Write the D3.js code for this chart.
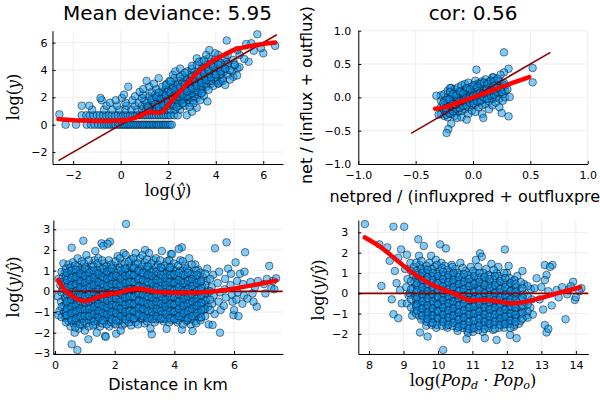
<!DOCTYPE html>
<html><head><meta charset="utf-8">
<script src="https://cdn.jsdelivr.net/npm/d3@7"></script>
<style>body{margin:0;background:#fff}svg{display:block}</style>
</head><body>
<svg id="c" width="600" height="400"></svg>
<script>
// ---------- DATA ----------
const titles = ["Mean deviance: 5.95", "cor: 0.56"];
const p1Ticks = [-2, 0, 2, 4, 6];
const p2Ticks = [-1, -0.5, 0, 0.5, 1];
const p3xTicks = [0, 2, 4, 6];
const p3yTicks = [-3, -2, -1, 0, 1, 2, 3];
const p4xTicks = [8, 9, 10, 11, 12, 13, 14];
const p4yTicks = [-2, -1, 0, 1, 2, 3];

// panel 1: log(yhat), log(y)
const p1Pts = [
[-2.58,0.76],[-2.32,0],[-1.88,0],[-1.43,0],[-1.25,0],[-1.1,0],[-0.95,0],[-0.82,0],[-0.7,0],[-0.6,0],[-0.5,0],[-0.4,0],[-0.3,0],[-0.22,0],[-0.12,0],[-0.05,0],[0.05,0],[0.12,0],[0.2,0],[0.28,0],[0.35,0],[0.42,0],[0.5,0],[0.58,0],[0.65,0],[0.72,0],[0.8,0],[0.88,0],[0.95,0],[1.02,0],[1.1,0],[1.18,0],[1.25,0],[1.33,0],[1.4,0],[1.48,0],[1.55,0],[1.62,0],[1.7,0],[1.78,0],[1.85,0],[1.92,0],[2.0,0],[2.08,0],[2.15,0],
[-1.64,0.69],[-1.45,0.69],[-1.3,0.69],[-1.15,0.69],[-1.0,0.69],[-0.88,0.69],[-0.75,0.69],[-0.62,0.69],[-0.5,0.69],[-0.38,0.69],[-0.25,0.69],[-0.12,0.69],[0,0.69],[0.1,0.69],[0.2,0.69],[0.3,0.69],[0.4,0.69],[0.5,0.69],[0.6,0.69],[0.7,0.69],[0.8,0.69],[0.9,0.69],[1.0,0.69],[1.1,0.69],[1.2,0.69],[1.3,0.69],[1.4,0.69],[1.5,0.69],[1.6,0.69],[1.7,0.69],[1.8,0.69],[1.9,0.69],[2.0,0.69],[2.1,0.69],[2.25,0.69],[2.4,0.69],[2.78,0.69],
[-1.2,1.1],[-0.7,1.1],[-0.35,1.1],[-0.05,1.1],[0.2,1.1],[0.45,1.1],[0.7,1.1],[0.9,1.1],[1.05,1.1],[1.2,1.1],[1.35,1.1],[1.5,1.1],[1.65,1.1],[1.8,1.1],[1.95,1.1],[2.1,1.1],[2.3,1.1],[2.5,1.1],
[-1.64,1.39],[-1.32,1.39],[-0.6,1.39],[-0.15,1.39],[0.25,1.39],[0.6,1.39],[0.9,1.39],[1.1,1.39],[1.3,1.39],[1.5,1.39],[1.7,1.39],[1.85,1.39],[2.0,1.39],[2.2,1.39],[2.45,1.39],[2.7,1.39],
[-0.45,1.61],[0.2,1.61],[0.75,1.61],[1.1,1.61],[1.4,1.61],[1.6,1.61],[1.8,1.61],[2.0,1.61],[2.2,1.61],[2.4,1.61],[2.65,1.61],[2.9,1.61],
[-0.8,1.79],[-0.21,1.79],[0.5,1.79],[1.0,1.79],[1.35,1.79],[1.6,1.79],[1.85,1.79],[2.1,1.79],[2.35,1.79],[2.55,1.79],[2.8,1.79],[3.05,1.79],
[-0.85,1.95],[0.05,1.95],[0.9,1.95],[1.3,1.95],[1.6,1.95],[1.9,1.95],[2.15,1.95],[2.4,1.95],[2.7,1.95],[2.95,1.95],[3.2,1.95],
[0.6,2.08],[1.2,2.08],[1.55,2.08],[1.8,2.08],[2.05,2.08],[2.3,2.08],[2.55,2.08],[2.8,2.08],[3.1,2.08],
[0.14,2.2],[0.95,2.2],[1.45,2.2],[1.75,2.2],[2.0,2.2],[2.25,2.2],[2.6,2.2],[2.9,2.2],[3.25,2.2],
[0.8,2.4],[1.3,2.4],[1.7,2.4],[2.0,2.4],[2.3,2.4],[2.55,2.4],[2.85,2.4],[3.15,2.4],[3.45,2.4],
[0.95,2.6],[1.5,2.6],[1.9,2.6],[2.2,2.6],[2.45,2.6],[2.75,2.6],[3.05,2.6],[3.35,2.6],
[0.32,2.78],[1.2,2.78],[1.75,2.78],[2.1,2.78],[2.4,2.78],[2.7,2.78],[3.0,2.78],[3.3,2.78],[3.6,2.78],
[1.4,3.0],[1.95,3.0],[2.3,3.0],[2.6,3.0],[2.9,3.0],[3.2,3.0],[3.5,3.0],[3.8,3.0],[4.1,3.0],
[1.09,3.2],[2.05,3.2],[2.45,3.2],[2.8,3.2],[3.1,3.2],[3.4,3.2],[3.7,3.2],[4.0,3.2],[4.21,3.15],
[1.6,3.4],[2.25,3.4],[2.65,3.4],[3.0,3.4],[3.3,3.4],[3.6,3.4],[3.9,3.4],[4.3,3.4],[4.74,3.5],
[2.2,3.65],[2.6,3.65],[2.95,3.65],[3.25,3.65],[3.55,3.65],[3.85,3.65],[4.15,3.65],[4.5,3.65],
[2.3,3.9],[2.8,3.9],[3.1,3.9],[3.45,3.9],[3.75,3.9],[4.0,3.9],[4.35,3.9],[4.7,3.9],
[2.5,4.1],[3.0,4.1],[3.4,4.1],[3.7,4.1],[4.05,4.1],[4.4,4.1],[4.91,4.12],
[3.2,4.35],[3.6,4.35],[3.9,4.35],[4.2,4.35],[4.5,4.35],[4.8,4.35],
[3.4,4.6],[3.8,4.6],[4.1,4.6],[4.45,4.6],[5.38,4.6],
[3.2,4.85],[3.7,4.85],[4.0,4.85],[4.4,4.85],[4.74,4.73],
[3.6,5.1],[4.1,5.1],[4.5,5.1],[5.0,5.1],
[3.97,5.22],[6.0,5.22],[3.73,5.46],[4.91,5.46],[5.28,5.9],[5.5,5.95],[6.5,5.76],[4.46,6.15],[5.75,6.61],
[3.2,1.24],[3.0,0.95],[3.35,1.8],[3.06,1.56],[3.5,2.1],[3.65,1.7],[2.9,1.3],[3.9,2.83],[4.11,3.02],[4.3,3.2],[4.6,3.3],[4.4,2.9],[4.9,3.6],[5.0,4.2],[5.2,4.8],[5.6,5.4],[5.9,5.6],[4.8,4.4],
[1.5,1.25],[1.7,1.5],[1.9,1.7],[2.1,1.9],[2.3,2.15],[2.5,2.3],[2.7,2.5],[2.9,2.7],[3.1,2.9],[3.3,3.1],[3.5,3.3],[3.7,3.5],[3.9,3.75],[4.1,3.95],[4.3,4.2],[4.5,4.45],
[1.8,2.25],[2.0,2.5],[2.2,2.7],[2.4,2.9],[2.6,3.1],[2.8,3.3],[3.0,3.5],[3.2,3.7],[3.4,3.95],[3.6,4.2],[3.8,4.45],
[2.2,1.5],[2.4,1.7],[2.6,1.9],[2.8,2.1],[3.0,2.3],[3.2,2.5],[3.4,2.75],[3.6,2.95],[3.8,3.2],[4.0,3.45],[4.2,3.7],
[1.3,1.8],[1.5,2.0],[1.6,2.35],[1.9,2.9],[2.1,3.15],[2.5,3.5],[2.7,3.8],[3.0,4.3],[3.3,4.6],
[1.15,1.25],[1.45,1.5],[2.35,1.3],[2.6,1.55],[3.4,2.3],[3.7,2.55],[4.0,3.7],[4.6,4.0],[4.2,4.5],[3.5,4.7],
[1.6,1.3],[1.8,1.45],[2.0,1.65],[2.2,1.85],[2.4,2.05],[2.6,2.25],[2.8,2.45],[3.0,2.65],[3.2,2.85],[3.4,3.05],[3.6,3.25],[3.8,3.45],[4.0,3.65],[4.2,3.9],[4.4,4.1],
[1.7,1.9],[1.9,2.15],[2.1,2.35],[2.3,2.55],[2.5,2.75],[2.7,2.95],[2.9,3.15],[3.1,3.35],[3.3,3.55],[3.5,3.75],[3.7,3.95],[3.9,4.2],[4.1,4.4]
];
const p1Fit = [[-2.62,0.42],[-2,0.33],[-1.5,0.3],[-1,0.28],[-0.5,0.28],[0,0.3],[0.5,0.45],[0.8,0.62],[1.1,0.86],[1.35,0.92],[1.6,0.88],[1.8,1.0],[2.0,1.45],[2.3,2.05],[2.64,2.7],[3.0,3.4],[3.34,4.0],[3.7,4.45],[4.04,4.85],[4.4,5.15],[4.74,5.45],[5.2,5.65],[5.6,5.8],[6.0,5.9],[6.5,6.0]];
const p1Diag = [[-2.62,-2.62],[6.57,6.57]];

// panel 2: netpred/(...), net/(...)
const p2Pts = [
[-0.28,-0.25],[-0.28,-0.15],[-0.28,-0.05],[-0.28,0.03],
[-0.25,-0.28],[-0.25,-0.2],[-0.25,-0.12],[-0.25,-0.05],[-0.25,0.05],
[-0.22,-0.3],[-0.22,-0.22],[-0.22,-0.15],[-0.22,-0.08],[-0.22,0.0],[-0.22,0.1],
[-0.19,-0.25],[-0.19,-0.18],[-0.19,-0.1],[-0.19,-0.04],[-0.19,0.02],[-0.19,0.14],
[-0.16,-0.28],[-0.16,-0.2],[-0.16,-0.14],[-0.16,-0.08],[-0.16,-0.02],[-0.16,0.05],[-0.16,0.12],
[-0.13,-0.22],[-0.13,-0.16],[-0.13,-0.1],[-0.13,-0.05],[-0.13,0.0],[-0.13,0.06],[-0.13,0.15],
[-0.10,-0.3],[-0.10,-0.2],[-0.10,-0.13],[-0.10,-0.07],[-0.10,-0.02],[-0.10,0.03],[-0.10,0.09],[-0.10,0.18],
[-0.07,-0.18],[-0.07,-0.11],[-0.07,-0.05],[-0.07,0.0],[-0.07,0.05],[-0.07,0.11],[-0.07,0.2],
[-0.04,-0.25],[-0.04,-0.15],[-0.04,-0.08],[-0.04,-0.03],[-0.04,0.02],[-0.04,0.07],[-0.04,0.13],[-0.04,0.22],
[-0.01,-0.2],[-0.01,-0.12],[-0.01,-0.06],[-0.01,0.0],[-0.01,0.04],[-0.01,0.1],[-0.01,0.16],
[0.02,-0.22],[0.02,-0.1],[0.02,-0.04],[0.02,0.02],[0.02,0.07],[0.02,0.12],[0.02,0.19],[0.02,0.25],
[0.05,-0.15],[0.05,-0.07],[0.05,0.0],[0.05,0.05],[0.05,0.1],[0.05,0.15],[0.05,0.21],
[0.08,-0.25],[0.08,-0.12],[0.08,-0.04],[0.08,0.02],[0.08,0.08],[0.08,0.13],[0.08,0.18],[0.08,0.24],
[0.11,-0.1],[0.11,-0.02],[0.11,0.05],[0.11,0.1],[0.11,0.15],[0.11,0.2],[0.11,0.27],
[0.14,-0.18],[0.14,-0.06],[0.14,0.02],[0.14,0.08],[0.14,0.13],[0.14,0.18],[0.14,0.23],
[0.17,-0.12],[0.17,-0.02],[0.17,0.05],[0.17,0.1],[0.17,0.16],[0.17,0.22],[0.17,0.3],
[0.20,-0.08],[0.20,0.0],[0.20,0.07],[0.20,0.13],[0.20,0.2],[0.20,0.26],
[0.23,-0.15],[0.23,-0.02],[0.23,0.06],[0.23,0.12],[0.23,0.19],[0.23,0.25],
[0.26,-0.05],[0.26,0.05],[0.26,0.12],[0.26,0.2],
[0.28,0.0],[0.28,0.1],[0.28,0.18],
[0.27,0.675],[0.03,0.415],[0.52,0.44],[0.52,0.225],[0.31,0.43],[0.27,0.375],[-0.32,0.025],[-0.2,0.14],[-0.23,-0.035],[-0.23,-0.26],[-0.3,-0.26],[-0.19,-0.395],[-0.215,-0.475],[-0.23,-0.535],[0.31,-0.285],[0.25,-0.235],[0.09,-0.31],[-0.055,-0.335],[-0.14,-0.31],[0.32,0.005],[0.18,0.3],[0.24,0.34],[0.3,0.12],[-0.2,0.08],
[-0.235,-0.2],[-0.205,-0.13],[-0.175,-0.14],[-0.145,-0.05],[-0.115,-0.1],[-0.085,-0.02],[-0.055,-0.05],[-0.025,0.04],[0.005,-0.03],[0.035,0.05],[0.065,0.02],[0.095,0.11],[0.125,0.06],[0.155,0.16],[0.185,0.12],[0.215,0.18],[0.245,0.15],
[-0.205,-0.24],[-0.175,-0.21],[-0.145,-0.17],[-0.115,-0.16],[-0.085,-0.13],[-0.055,-0.12],[-0.025,-0.08],[0.005,-0.09],[0.035,-0.06],[0.065,-0.05],[0.095,0.0],[0.125,-0.02],[0.155,0.03],[0.185,0.04],[0.215,0.08],
[-0.205,-0.03],[-0.175,0.05],[-0.145,0.03],[-0.115,0.09],[-0.085,0.06],[-0.055,0.14],[-0.025,0.12],[0.005,0.18],[0.035,0.15],[0.065,0.2],[0.095,0.22],[0.125,0.2],[0.155,0.25],[0.185,0.24],[0.215,0.28],
[-0.26,-0.09],[-0.24,-0.16],[0.25,0.08],[0.27,0.22],
[-0.18,-0.1],[-0.15,-0.11],[-0.12,-0.06],[-0.09,-0.05],[-0.06,-0.01],[-0.03,-0.01],[0.0,0.02],[0.03,0.03],[0.06,0.07],[0.09,0.06],[0.12,0.12],[0.15,0.1],[0.18,0.17],[0.21,0.14]
];
const p2Fit = [[-0.33,-0.17],[-0.25,-0.15],[-0.15,-0.09],[-0.05,-0.03],[0.05,0.03],[0.15,0.09],[0.25,0.155],[0.35,0.22],[0.49,0.305]];
const p2Diag = [[-0.54,-0.54],[0.675,0.675]];

// panel 3: distance, log(y/yhat)
const p3Pts = [
[0.12,0.6],[0.1,-0.25],[0.15,-0.95],[0.11,-1.15],[0.18,0.3],[0.2,-0.5],
[0.28,1.35],[0.32,0.9],[0.3,0.45],[0.26,0.1],[0.33,-0.3],[0.29,-0.7],[0.31,-1.0],[0.35,-1.3],[0.27,0.7],
[0.45,1.3],[0.48,1.0],[0.42,0.65],[0.46,0.3],[0.44,-0.05],[0.47,-0.4],[0.43,-0.75],[0.5,-1.1],[0.45,-1.45],[0.52,-1.7],[0.41,0.15],
[0.56,2.11],[0.6,1.4],[0.62,1.05],[0.58,0.75],[0.63,0.4],[0.59,0.1],[0.61,-0.25],[0.57,-0.6],[0.64,-0.9],[0.6,-1.25],[0.62,-1.55],[0.66,-2.0],[0.56,-2.56],
[0.75,-2.84],[0.76,1.2],[0.72,0.9],[0.78,0.55],[0.74,0.2],[0.77,-0.15],[0.73,-0.5],[0.79,-0.85],[0.75,-1.2],[0.71,-1.5],[0.8,-1.8],[0.76,1.6],
[0.95,2.45],[0.9,1.45],[0.88,1.0],[0.92,0.7],[0.86,0.35],[0.91,0.0],[0.89,-0.35],[0.93,-0.7],[0.87,-1.05],[0.9,-1.35],[0.94,-1.65],[0.85,-0.2],
[1.05,1.75],[1.02,1.2],[1.08,0.85],[1.04,0.5],[1.07,0.15],[1.01,-0.2],[1.06,-0.55],[1.03,-0.9],[1.09,-1.25],[1.05,-1.55],[1.12,-2.32],[1.0,-1.9],
[1.22,1.0],[1.18,0.6],[1.21,0.3],[1.19,-0.05],[1.24,-0.4],[1.17,-0.75],[1.23,-1.1],[1.2,-1.4],[1.25,1.3],
[1.35,1.95],[1.33,1.5],[1.37,0.9],[1.34,0.55],[1.38,0.2],[1.32,-0.15],[1.36,-0.5],[1.31,-0.85],[1.39,-1.2],[1.35,-1.6],[1.4,-2.0],
[1.56,2.32],[1.5,1.15],[1.48,0.75],[1.53,0.4],[1.47,0.05],[1.52,-0.3],[1.49,-0.65],[1.54,-1.0],[1.46,-1.35],[1.51,-1.7],[1.45,1.6],
[1.62,2.2],[1.68,-2.16],[1.65,1.35],[1.63,0.95],[1.67,0.6],[1.64,0.25],[1.66,-0.1],[1.61,-0.45],[1.69,-0.8],[1.63,-1.15],[1.67,-1.45],[1.7,-2.2],
[1.84,2.4],[1.76,2.3],[1.8,1.5],[1.78,1.05],[1.82,0.7],[1.79,0.35],[1.83,0.0],[1.77,-0.35],[1.81,-0.7],[1.85,-1.05],[1.78,-1.4],[1.82,-1.7],
[1.95,1.25],[1.93,0.85],[1.97,0.5],[1.92,0.15],[1.96,-0.2],[1.94,-0.55],[1.98,-0.9],[1.91,-1.25],[1.99,-1.55],
[2.1,1.7],[2.08,1.05],[2.12,0.7],[2.07,0.3],[2.11,-0.05],[2.06,-0.4],[2.13,-0.75],[2.09,-1.1],[2.14,-1.45],[2.05,-2.05],
[2.3,1.85],[2.22,1.35],[2.26,0.9],[2.23,0.5],[2.27,0.15],[2.21,-0.2],[2.28,-0.55],[2.24,-0.9],[2.29,-1.25],[2.25,-1.65],[2.2,-1.9],
[2.38,3.26],[2.37,1.75],[2.4,1.1],[2.42,0.7],[2.39,0.35],[2.43,0.0],[2.41,-0.35],[2.36,-0.7],[2.44,-1.05],[2.4,-1.4],
[2.55,1.55],[2.52,1.2],[2.57,0.85],[2.54,0.45],[2.58,0.1],[2.53,-0.25],[2.56,-0.6],[2.51,-0.95],[2.59,-1.3],[2.55,-1.65],
[2.7,1.85],[2.68,1.35],[2.72,0.95],[2.67,0.6],[2.73,0.25],[2.69,-0.1],[2.71,-0.45],[2.66,-0.8],[2.74,-1.15],[2.7,-1.5],
[2.85,1.6],[2.83,1.1],[2.87,0.75],[2.82,0.4],[2.88,0.05],[2.84,-0.3],[2.86,-0.65],[2.81,-1.0],[2.89,-1.35],
[3.02,2.0],[3.0,1.4],[2.98,1.0],[3.03,0.6],[2.97,0.2],[3.01,-0.15],[3.04,-0.5],[2.99,-0.85],[3.05,-1.2],[3.0,-1.55],
[3.15,1.85],[3.13,1.2],[3.17,0.8],[3.12,0.45],[3.18,0.1],[3.14,-0.25],[3.16,-0.6],[3.11,-0.95],[3.19,-1.3],[3.24,-2.08],[3.2,-1.8],
[3.3,1.5],[3.28,1.0],[3.32,0.6],[3.27,0.25],[3.33,-0.1],[3.29,-0.45],[3.31,-0.8],[3.26,-1.15],[3.34,-1.5],
[3.45,1.3],[3.43,0.85],[3.47,0.45],[3.42,0.05],[3.48,-0.3],[3.44,-0.65],[3.46,-1.0],[3.5,-1.35],
[3.58,1.95],[3.6,1.1],[3.62,0.7],[3.57,0.3],[3.63,-0.05],[3.59,-0.4],[3.61,-0.75],[3.56,-1.1],[3.64,-1.45],
[3.75,1.45],[3.73,0.9],[3.77,0.5],[3.72,0.15],[3.78,-0.2],[3.74,-0.55],[3.76,-0.9],[3.74,-1.81],[3.71,-1.3],
[3.88,1.8],[3.92,1.8],[3.9,1.2],[3.87,0.75],[3.93,0.35],[3.89,0.0],[3.91,-0.35],[3.86,-0.7],[3.94,-1.05],[3.9,-1.4],
[4.05,1.0],[4.03,0.6],[4.07,0.25],[4.02,-0.1],[4.08,-0.45],[4.04,-0.8],[4.06,-1.15],[4.1,-1.5],
[4.25,2.13],[4.15,2.05],[4.2,1.5],[4.18,1.0],[4.22,0.5],[4.17,0.1],[4.23,-0.25],[4.19,-0.6],[4.21,-0.95],[4.16,-1.3],[4.25,-1.85],
[4.35,1.25],[4.33,0.75],[4.37,0.3],[4.32,-0.05],[4.38,-0.4],[4.34,-0.75],[4.36,-1.1],[4.4,-1.45],
[4.5,1.6],[4.48,1.0],[4.52,0.55],[4.47,0.15],[4.53,-0.2],[4.49,-0.55],[4.51,-0.9],[4.46,-1.25],[4.55,-1.6],
[4.7,1.3],[4.65,0.8],[4.63,0.35],[4.67,-0.05],[4.62,-0.4],[4.68,-0.75],[4.64,-1.1],[4.61,-1.92],[4.7,-1.45],
[4.8,1.05],[4.78,0.55],[4.82,0.15],[4.77,-0.25],[4.83,-0.6],[4.79,-0.95],[4.85,-1.3],
[4.95,0.7],[4.93,0.25],[4.97,-0.15],[4.92,-0.55],[4.98,-0.9],[5.0,-0.6],
[5.1,1.1],[5.08,0.5],[5.12,0.05],[5.07,-0.35],[5.13,-0.75],[5.15,-1.6],
[5.36,2.08],[5.28,-1.63],[5.3,0.8],[5.25,0.2],[5.32,-0.2],[5.27,-0.6],[5.35,-1.1],
[5.53,-2.0],[5.5,0.95],[5.45,0.4],[5.52,-0.05],[5.48,-0.5],[5.55,-0.9],
[5.75,2.37],[5.7,0.6],[5.68,0.1],[5.72,-0.3],[5.66,-0.7],[5.8,1.1],
[5.9,0.85],[5.88,0.3],[5.93,-0.15],[5.98,-1.15],[6.0,-0.9],[5.95,-0.5],
[6.05,1.4],[6.1,0.5],[6.12,-0.05],[6.08,-0.4],[6.15,-1.2],[6.2,0.85],
[6.37,1.89],[6.3,0.35],[6.33,-0.2],[6.28,-0.6],[6.45,-0.35],[6.35,0.95],
[6.55,0.45],[6.62,-0.1],[6.76,-0.74],[6.7,0.2],[6.8,0.5],[6.65,-0.5],
[7.0,0.35],[7.1,0.6],[7.18,1.23],[7.25,0.15],[7.3,0.5],[7.41,0.63],[7.35,0.1],[7.05,-0.1]
];
// extra dense-core points of panel 3, by column: [x, y values]
const p3Cols = [
[0.22,[0.95,0.45,-0.05,-0.75,-1.25]],
[0.37,[1.1,0.75,0.4,0.05,-0.35,-0.6,-0.95,-1.2,-1.5]],
[0.52,[1.15,0.8,0.5,0.2,-0.2,-0.55,-0.85,-1.3]],
[0.68,[1.25,0.9,0.6,0.25,-0.1,-0.4,-0.75,-1.05,-1.4,-1.75]],
[0.83,[1.05,0.75,0.45,0.1,-0.3,-0.65,-1.0,-1.3,-1.6]],
[0.98,[1.35,0.95,0.6,0.3,-0.05,-0.4,-0.75,-1.1,-1.45]],
[1.13,[1.5,1.05,0.7,0.35,0.0,-0.35,-0.7,-1.05,-1.4,-1.7]],
[1.28,[1.2,0.8,0.45,0.1,-0.25,-0.6,-0.95,-1.3,-1.65]],
[1.43,[1.35,1.0,0.6,0.3,-0.05,-0.4,-0.75,-1.1,-1.45]],
[1.58,[1.5,0.9,0.55,0.2,-0.15,-0.5,-0.85,-1.2,-1.55]],
[1.73,[1.2,0.8,0.45,0.1,-0.25,-0.6,-0.95,-1.25,-1.6]],
[1.88,[1.3,0.95,0.55,0.2,-0.15,-0.45,-0.8,-1.15,-1.5]],
[2.03,[1.45,0.9,0.5,0.15,-0.2,-0.55,-0.9,-1.25,-1.6]],
[2.18,[1.6,1.15,0.75,0.35,0.0,-0.35,-0.7,-1.05,-1.4]],
[2.33,[1.35,0.95,0.55,0.2,-0.15,-0.5,-0.85,-1.2,-1.55]],
[2.48,[1.45,0.95,0.6,0.25,-0.1,-0.45,-0.8,-1.15,-1.5]],
[2.63,[1.6,1.1,0.75,0.4,0.05,-0.3,-0.65,-1.0,-1.35]],
[2.78,[1.35,0.95,0.55,0.2,-0.15,-0.5,-0.85,-1.2,-1.6]],
[2.93,[1.75,1.2,0.8,0.45,0.1,-0.25,-0.6,-0.95,-1.3]],
[3.08,[1.55,1.05,0.65,0.3,-0.05,-0.4,-0.75,-1.1,-1.45]],
[3.23,[1.35,0.95,0.55,0.2,-0.15,-0.5,-0.85,-1.2]],
[3.38,[1.6,1.15,0.75,0.4,0.05,-0.3,-0.65,-1.0,-1.35]],
[3.53,[1.5,1.0,0.6,0.25,-0.1,-0.45,-0.8,-1.15]],
[3.68,[1.25,0.85,0.45,0.1,-0.25,-0.6,-0.95,-1.35]],
[3.83,[1.5,1.0,0.6,0.25,-0.1,-0.45,-0.8,-1.15,-1.5]],
[3.98,[1.35,0.85,0.45,0.1,-0.25,-0.6,-0.95,-1.3]],
[4.13,[1.25,0.75,0.35,0.0,-0.35,-0.7,-1.05,-1.4]],
[4.28,[1.45,1.0,0.55,0.15,-0.2,-0.55,-0.9,-1.25,-1.6]],
[4.43,[1.1,0.7,0.3,-0.05,-0.4,-0.75,-1.1,-1.4]],
[4.58,[1.3,0.85,0.45,0.05,-0.3,-0.65,-1.0,-1.35]],
[4.73,[1.0,0.6,0.2,-0.15,-0.5,-0.85,-1.2,-1.55]],
[4.88,[0.9,0.45,0.05,-0.35,-0.7,-1.05,-1.4]],
[5.03,[0.85,0.3,-0.1,-0.45,-0.85,-1.2]],
[5.2,[0.6,0.0,-0.4,-0.9]],
[0.4,[0.9,0.55,0.2,-0.15,-0.5,-0.85,-1.15]],
[0.55,[1.0,0.65,0.3,-0.05,-0.4,-0.75,-1.05,-1.4]],
[0.7,[1.05,0.7,0.35,0.0,-0.3,-0.65,-0.95,-1.3]],
[0.85,[0.85,0.5,0.2,-0.15,-0.5,-0.85,-1.2]],
[1.0,[1.1,0.75,0.4,0.1,-0.25,-0.55,-0.9,-1.2]],
[1.15,[0.9,0.55,0.2,-0.15,-0.5,-0.85,-1.2]],
[1.3,[1.0,0.65,0.3,-0.05,-0.4,-0.75,-1.1,-1.45]],
[1.45,[0.85,0.45,0.1,-0.25,-0.6,-0.95,-1.25]],
[1.6,[1.1,0.7,0.35,0.0,-0.35,-0.7,-1.05,-1.4]],
[1.75,[0.95,0.6,0.25,-0.1,-0.45,-0.8,-1.1]],
[1.9,[1.1,0.7,0.35,0.0,-0.35,-0.65,-1.0,-1.35]],
[2.05,[0.75,0.35,0.0,-0.35,-0.7,-1.05,-1.4]],
[2.2,[1.0,0.6,0.25,-0.1,-0.5,-0.85,-1.2]],
[2.35,[1.1,0.75,0.4,0.05,-0.3,-0.65,-1.0,-1.35]],
[2.5,[0.8,0.45,0.1,-0.25,-0.6,-0.95,-1.25]],
[2.65,[1.15,0.8,0.45,0.1,-0.25,-0.6,-0.95,-1.3]],
[2.8,[1.0,0.6,0.25,-0.1,-0.45,-0.8,-1.1]],
[2.95,[0.9,0.55,0.2,-0.15,-0.5,-0.85,-1.2]],
[3.1,[1.2,0.8,0.45,0.1,-0.25,-0.6,-0.95,-1.3]],
[3.25,[0.75,0.4,0.05,-0.3,-0.65,-1.0,-1.35]],
[3.4,[0.95,0.55,0.2,-0.15,-0.5,-0.85,-1.2]],
[3.55,[1.15,0.8,0.45,0.1,-0.25,-0.6,-0.95,-1.3]],
[3.7,[0.65,0.3,-0.05,-0.4,-0.75,-1.1]],
[3.85,[1.15,0.8,0.45,0.1,-0.25,-0.6,-0.95,-1.3]],
[4.0,[0.8,0.4,0.05,-0.3,-0.65,-1.0,-1.35]],
[4.15,[0.9,0.55,0.2,-0.15,-0.5,-0.85,-1.2]],
[4.3,[0.8,0.4,0.0,-0.35,-0.7,-1.05]],
[4.45,[0.9,0.5,0.1,-0.25,-0.6,-0.95,-1.3]],
[4.6,[0.6,0.25,-0.15,-0.5,-0.85,-1.2]],
[4.75,[0.8,0.4,0.0,-0.35,-0.7,-1.05]],
[4.9,[0.5,0.15,-0.2,-0.55,-0.9,-1.25]]
];
const p3Fit = [[0.11,0.55],[0.25,0.2],[0.39,-0.02],[0.55,-0.2],[0.73,-0.36],[0.9,-0.45],[1.06,-0.46],[1.25,-0.38],[1.51,-0.25],[1.8,-0.15],[2.07,-0.1],[2.4,0.05],[2.79,0.14],[3.18,0.03],[3.74,-0.06],[4.3,-0.07],[4.86,-0.06],[5.4,0.0],[5.98,0.13],[6.65,0.3],[7.41,0.52]];

// panel 4: log(Pop_d*Pop_o), log(y/yhat)
const p4Pts = [
[7.88,3.41],[8.3,2.41],[8.53,2.26],[8.36,0.36],[8.66,-0.3],[8.71,-1.03],[8.85,-1.23],[8.71,3.28],[8.6,1.6],[8.75,1.1],[8.9,0.15],[8.85,1.75],[8.93,2.16],[9.02,3.28],[8.8,0.5],[8.95,-0.5],
[9.1,1.9],[9.05,1.2],[9.12,0.7],[9.08,0.3],[9.15,-0.1],[9.1,-0.5],[9.2,1.5],[9.18,0.0],
[9.3,1.3],[9.28,0.9],[9.32,0.55],[9.27,0.2],[9.33,-0.15],[9.35,-0.55],[9.3,-0.9],[9.25,-1.1],
[9.43,2.66],[9.45,1.85],[9.47,1.4],[9.42,1.0],[9.46,0.65],[9.44,0.3],[9.48,-0.05],[9.43,-0.4],[9.49,-0.75],[9.45,-1.1],[9.48,-1.93],
[9.59,2.33],[9.6,1.2],[9.62,0.85],[9.58,0.5],[9.63,0.15],[9.57,-0.2],[9.61,-0.55],[9.64,-0.9],[9.59,-1.25],[9.7,-2.13],[9.66,-1.6],
[9.75,1.5],[9.73,1.0],[9.77,0.65],[9.72,0.3],[9.78,-0.05],[9.74,-0.4],[9.76,-0.75],[9.71,-1.1],[9.79,-1.45],[9.8,1.85],
[9.9,1.3],[9.88,0.85],[9.92,0.45],[9.87,0.1],[9.93,-0.25],[9.89,-0.6],[9.91,-0.95],[9.86,-1.3],[9.94,1.65],[9.95,-1.7],
[10.06,2.41],[10.05,1.1],[10.03,0.7],[10.07,0.35],[10.02,0.0],[10.08,-0.35],[10.04,-0.7],[10.06,-1.05],[10.01,-1.4],[10.1,1.5],
[10.23,2.21],[10.2,1.35],[10.18,0.9],[10.22,0.5],[10.17,0.15],[10.23,-0.2],[10.19,-0.55],[10.21,-0.9],[10.16,-1.25],[10.24,-1.6],[10.15,-2.79],
[10.35,1.05],[10.33,0.65],[10.37,0.3],[10.32,-0.05],[10.38,-0.4],[10.34,-0.75],[10.36,-1.1],[10.31,-1.45],[10.4,1.4],
[10.5,1.2],[10.48,0.8],[10.52,0.4],[10.47,0.05],[10.53,-0.3],[10.49,-0.65],[10.51,-1.0],[10.46,-1.35],[10.55,-1.7],
[10.65,1.5],[10.63,0.9],[10.67,0.5],[10.62,0.15],[10.68,-0.2],[10.64,-0.55],[10.66,-0.9],[10.61,-1.25],[10.69,-1.6],
[10.8,1.1],[10.78,0.6],[10.82,0.25],[10.77,-0.1],[10.83,-0.45],[10.79,-0.8],[10.81,-1.15],[10.76,-1.5],[10.83,-2.25],[10.85,-1.85],
[10.95,1.3],[10.93,0.75],[10.97,0.35],[10.92,0.0],[10.98,-0.35],[10.94,-0.7],[10.96,-1.05],[10.91,-1.4],[11.0,-1.75],
[11.1,1.64],[11.08,1.0],[11.12,0.5],[11.07,0.1],[11.13,-0.25],[11.09,-0.6],[11.11,-0.95],[11.06,-1.3],[11.14,-1.65],
[11.22,1.97],[11.27,1.8],[11.25,0.8],[11.23,0.35],[11.27,-0.05],[11.22,-0.4],[11.28,-0.75],[11.24,-1.1],[11.26,-1.45],[11.3,-1.9],
[11.36,-2.21],[11.4,1.2],[11.38,0.6],[11.42,0.15],[11.37,-0.2],[11.43,-0.55],[11.39,-0.9],[11.41,-1.25],[11.45,-1.6],
[11.55,1.45],[11.53,0.85],[11.57,0.35],[11.52,-0.05],[11.58,-0.4],[11.54,-0.75],[11.56,-1.1],[11.51,-1.45],[11.6,-1.8],
[11.7,-2.3],[11.7,1.0],[11.68,0.5],[11.72,0.05],[11.67,-0.3],[11.73,-0.65],[11.69,-1.0],[11.71,-1.35],[11.75,1.3],
[11.85,0.7],[11.83,0.25],[11.87,-0.15],[11.82,-0.5],[11.88,-0.85],[11.84,-1.2],[11.9,-1.55],[11.94,2.16],
[12.0,1.0],[12.02,0.4],[11.98,-0.05],[12.03,-0.45],[11.97,-0.8],[12.01,-1.15],[12.04,-1.5],[12.09,-2.05],[12.05,1.35],
[12.15,0.6],[12.13,0.15],[12.17,-0.25],[12.12,-0.6],[12.18,-0.95],[12.14,-1.3],[12.28,-2.21],[12.2,-1.65],
[12.3,0.85],[12.28,0.3],[12.32,-0.1],[12.27,-0.5],[12.33,-0.85],[12.29,-1.2],[12.35,-1.5],
[12.5,0.45],[12.48,-0.05],[12.52,-0.4],[12.47,-0.75],[12.55,-1.1],[12.45,1.1],
[12.7,0.2],[12.72,-0.3],[12.68,-0.7],[12.75,-1.05],[12.86,0.74],[12.8,0.25],
[12.95,-0.3],[13.0,0.3],[13.1,1.39],[13.15,0.9],[13.1,-1.56],[13.15,-1.93],[13.2,-1.75],[13.32,1.39],[13.05,-0.8],[13.2,0.1],[13.3,-0.6],[13.1,0.65],[13.25,1.3],
[13.44,0.16],[13.5,-0.2],[13.7,-1.28],[13.6,0.3],[13.8,0.2],[13.92,0.57],[14.16,0.25],[13.97,-0.33],[14.0,-0.2],[14.1,0.1],[13.85,0.35],[13.75,-0.05]
];
// extra dense-core points of panel 4, by column: [x, y values]
const p4Cols = [
[9.22,[1.1,0.6,0.2,-0.3,-0.7]],
[9.37,[1.5,1.1,0.75,0.4,0.05,-0.3,-0.65,-1.0]],
[9.52,[1.6,1.2,0.8,0.45,0.1,-0.25,-0.6,-0.95,-1.3]],
[9.67,[1.35,1.0,0.65,0.3,-0.05,-0.4,-0.75,-1.1,-1.4]],
[9.82,[1.2,0.85,0.5,0.15,-0.2,-0.55,-0.9,-1.25,-1.55]],
[9.97,[1.4,0.95,0.55,0.2,-0.15,-0.5,-0.85,-1.2,-1.55]],
[10.12,[1.25,0.85,0.5,0.15,-0.2,-0.55,-0.9,-1.25,-1.6]],
[10.27,[1.15,0.75,0.4,0.05,-0.3,-0.65,-1.0,-1.35,-1.7]],
[10.42,[1.3,0.9,0.5,0.15,-0.2,-0.55,-0.9,-1.25,-1.6]],
[10.57,[1.0,0.6,0.25,-0.1,-0.45,-0.8,-1.15,-1.5,-1.85]],
[10.72,[1.25,0.8,0.4,0.05,-0.3,-0.65,-1.0,-1.35,-1.7]],
[10.87,[0.9,0.5,0.15,-0.2,-0.55,-0.9,-1.25,-1.6,-1.95]],
[11.02,[1.1,0.6,0.2,-0.15,-0.5,-0.85,-1.2,-1.55,-1.9]],
[11.17,[1.3,0.75,0.3,-0.05,-0.4,-0.75,-1.1,-1.45,-1.8]],
[11.32,[1.0,0.55,0.15,-0.2,-0.55,-0.9,-1.25,-1.6]],
[11.47,[0.9,0.45,0.05,-0.3,-0.65,-1.0,-1.35,-1.7]],
[11.62,[1.15,0.65,0.2,-0.15,-0.5,-0.85,-1.2,-1.55]],
[11.77,[0.85,0.4,0.0,-0.35,-0.7,-1.05,-1.4,-1.7]],
[11.92,[1.0,0.5,0.1,-0.3,-0.65,-1.0,-1.35,-1.7]],
[12.07,[0.75,0.3,-0.1,-0.45,-0.8,-1.15,-1.5]],
[12.22,[0.65,0.25,-0.15,-0.55,-0.9,-1.25,-1.55]],
[12.4,[0.55,0.1,-0.3,-0.65,-1.0,-1.35]],
[12.6,[0.35,-0.15,-0.55,-0.9,-1.2]],
[9.4,[0.9,0.5,0.15,-0.2,-0.55,-0.85]],
[9.55,[1.0,0.65,0.3,-0.05,-0.4,-0.75,-1.1]],
[9.7,[1.15,0.8,0.45,0.1,-0.25,-0.6,-0.95,-1.25]],
[9.85,[1.0,0.65,0.3,-0.05,-0.4,-0.75,-1.1,-1.45]],
[10.0,[0.85,0.5,0.15,-0.2,-0.55,-0.9,-1.25]],
[10.15,[1.05,0.7,0.35,0.0,-0.35,-0.7,-1.05,-1.4]],
[10.3,[0.9,0.55,0.2,-0.15,-0.5,-0.85,-1.2,-1.55]],
[10.45,[1.0,0.65,0.3,-0.05,-0.4,-0.75,-1.1,-1.45]],
[10.6,[0.8,0.45,0.1,-0.25,-0.6,-0.95,-1.3,-1.65]],
[10.75,[0.95,0.55,0.2,-0.15,-0.5,-0.85,-1.2,-1.55]],
[10.9,[0.7,0.35,0.0,-0.35,-0.7,-1.05,-1.4,-1.75]],
[11.05,[0.85,0.45,0.05,-0.3,-0.65,-1.0,-1.35,-1.7]],
[11.2,[1.0,0.55,0.15,-0.2,-0.55,-0.9,-1.25,-1.6]],
[11.35,[0.8,0.4,0.0,-0.35,-0.7,-1.05,-1.4,-1.75]],
[11.5,[0.7,0.25,-0.1,-0.45,-0.8,-1.15,-1.5]],
[11.65,[0.85,0.4,0.0,-0.35,-0.7,-1.05,-1.4,-1.75]],
[11.8,[0.6,0.2,-0.2,-0.55,-0.9,-1.25,-1.55]],
[11.95,[0.75,0.3,-0.1,-0.45,-0.8,-1.15,-1.5]],
[12.1,[0.5,0.1,-0.3,-0.65,-1.0,-1.35,-1.7]],
[12.25,[0.45,0.05,-0.35,-0.7,-1.05,-1.4]],
[12.45,[0.25,-0.2,-0.6,-0.95,-1.25]]
];
const p4Fit = [[7.88,2.75],[8.32,2.3],[8.8,1.64],[9.29,0.98],[9.67,0.57],[10.06,0.25],[10.44,0.0],[10.7,-0.2],[10.93,-0.36],[11.36,-0.33],[11.8,-0.41],[12.09,-0.49],[12.3,-0.49],[12.57,-0.41],[13.05,-0.2],[13.63,0.08],[14.12,0.3]];

// ---------- DRAW ----------
const svg = d3.select("#c");
const SANS = "DejaVu Sans, sans-serif";
const SERIF = "DejaVu Serif, serif";
const fromCols = cols => cols.flatMap(([x, ys]) => ys.map(v => [x, v]));

function panel(o) {
  const x = d3.scaleLinear().domain(o.xd).range(o.xr);
  const y = d3.scaleLinear().domain(o.yd).range(o.yr);
  const g = svg.append("g");
  g.selectAll(null).data(o.xt).join("line")
    .attr("x1", d => x(d)).attr("x2", d => x(d)).attr("y1", o.yr[0]).attr("y2", o.yr[1])
    .attr("stroke", "#e6e6e6").attr("stroke-width", 0.7);
  g.selectAll(null).data(o.yt).join("line")
    .attr("y1", d => y(d)).attr("y2", d => y(d)).attr("x1", o.xr[0]).attr("x2", o.xr[1])
    .attr("stroke", "#e6e6e6").attr("stroke-width", 0.7);
  g.selectAll(null).data(o.pts).join("circle")
    .attr("cx", d => x(d[0])).attr("cy", d => y(d[1])).attr("r", 3.8)
    .attr("fill", "rgba(0,154,250,0.5)").attr("stroke", "rgba(0,0,0,0.55)").attr("stroke-width", 0.9);
  if (o.diag) {
    g.append("path").datum(o.diag)
      .attr("d", d3.line().x(d => x(d[0])).y(d => y(d[1])))
      .attr("stroke", "#8b0000").attr("stroke-width", 1.6).attr("fill", "none");
  }
  if (o.hline !== undefined) {
    g.append("line").attr("x1", o.xr[0]).attr("x2", o.xr[1])
      .attr("y1", y(o.hline)).attr("y2", y(o.hline))
      .attr("stroke", "#8b0000").attr("stroke-width", 1.8);
  }
  g.append("path").datum(o.fit)
    .attr("d", d3.line().x(d => x(d[0])).y(d => y(d[1])).curve(d3.curveMonotoneX))
    .attr("stroke", "#ff0000").attr("stroke-width", 4.5).attr("fill", "none")
    .attr("stroke-linecap", "round").attr("stroke-linejoin", "round");
  const ax = g.append("g").attr("transform", `translate(0,${o.yr[0]})`)
    .call(d3.axisBottom(x).tickValues(o.xt).tickFormat(o.xf).tickSize(-3).tickPadding(5).tickSizeOuter(0));
  const ay = g.append("g").attr("transform", `translate(${o.xr[0]},0)`)
    .call(d3.axisLeft(y).tickValues(o.yt).tickFormat(o.yf).tickSize(-3).tickPadding(o.ypad || 5).tickSizeOuter(0));
  [ax, ay].forEach(a => {
    a.select(".domain").attr("stroke", "#000").attr("stroke-width", 1);
    a.selectAll(".tick line").attr("stroke", "#000");
    a.selectAll("text").attr("font-family", SANS).attr("font-size", 11).attr("fill", "#000");
  });
  ax.selectAll("text").attr("dy", "0.9em");
}

const fi = d3.format("d"), f1 = d3.format(".1f");
panel({xd:[-2.87,6.83], xr:[52.5,283], yd:[-2.87,6.87], yr:[164,30.7], xt:p1Ticks, yt:p1Ticks, xf:fi, yf:fi, pts:p1Pts, fit:p1Fit, diag:p1Diag});
panel({xd:[-1,1], xr:[358.3,587.7], yd:[-1,1], yr:[164,30.7], xt:p2Ticks, yt:p2Ticks, xf:f1, yf:f1, pts:p2Pts, fit:p2Fit, diag:p2Diag, ypad:7});
panel({xd:[-0.057,7.63], xr:[53.3,282.7], yd:[-3.03,3.45], yr:[354,220], xt:p3xTicks, yt:p3yTicks, xf:fi, yf:fi, pts:p3Pts.concat(fromCols(p3Cols)), fit:p3Fit, hline:0, ypad:3});
panel({xd:[7.69,14.36], xr:[358.3,588.3], yd:[-2.99,3.61], yr:[354,220], xt:p4xTicks, yt:p4yTicks, xf:fi, yf:fi, pts:p4Pts.concat(fromCols(p4Cols)), fit:p4Fit, hline:0, ypad:10});

svg.append("text").attr("x", 167.5).attr("y", 20).attr("text-anchor", "middle")
  .attr("font-family", SANS).attr("font-size", 20).text(titles[0]);
svg.append("text").attr("x", 473).attr("y", 20).attr("text-anchor", "middle")
  .attr("font-family", SANS).attr("font-size", 20).text(titles[1]);

svg.append("text").attr("x", 473).attr("y", 202).attr("text-anchor", "middle")
  .attr("font-family", SANS).attr("font-size", 16).text("netpred / (influxpred + outfluxpred)");
svg.append("text").attr("transform", "translate(312,95) rotate(-90)").attr("text-anchor", "middle")
  .attr("font-family", SANS).attr("font-size", 16).text("net / (influx + outflux)");
svg.append("text").attr("x", 168).attr("y", 390).attr("text-anchor", "middle")
  .attr("font-family", SANS).attr("font-size", 16).text("Distance in km");

function math(parent, parts, size) {
  const t = parent.append("text").attr("font-family", SERIF).attr("font-size", size).attr("text-anchor", "middle");
  parts.forEach(p => {
    const s = t.append("tspan").text(p.t);
    if (p.i) s.attr("font-style", "italic");
    if (p.sub) s.attr("font-size", size * 0.7).attr("baseline-shift", "-25%");
  });
  return t;
}
math(svg.append("g").attr("transform", "translate(19,97) rotate(-90)"),
  [{t:"log("},{t:"y",i:1},{t:")"}], 16);
math(svg.append("g").attr("transform", "translate(168,196)"),
  [{t:"log("},{t:"ŷ",i:1},{t:")"}], 16);
math(svg.append("g").attr("transform", "translate(19,287) rotate(-90)"),
  [{t:"log("},{t:"y",i:1},{t:"/"},{t:"ŷ",i:1},{t:")"}], 16);
math(svg.append("g").attr("transform", "translate(324,290) rotate(-90)"),
  [{t:"log("},{t:"y",i:1},{t:"/"},{t:"ŷ",i:1},{t:")"}], 16);
math(svg.append("g").attr("transform", "translate(473,386)"),
  [{t:"log("},{t:"Pop",i:1},{t:"d",i:1,sub:1},{t:" · "},{t:"Pop",i:1},{t:"o",i:1,sub:1},{t:")"}], 16);
</script>
</body></html>
